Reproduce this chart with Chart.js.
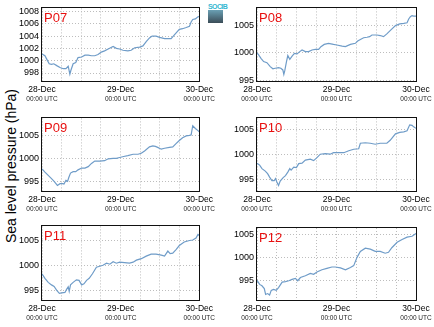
<!DOCTYPE html>
<html>
<head>
<meta charset="utf-8">
<script src="https://cdn.jsdelivr.net/npm/chart.js@4"></script>
<style>
  body { margin: 0; background: #fff; }
  #wrap { position: relative; width: 434px; height: 327px; font-family: 'Liberation Sans', Arial, sans-serif; }
  #wrap canvas { position: absolute; }
  #ylabel { position: absolute; left: 11px; top: 166px; transform: translate(-50%, -50%) rotate(-90deg); white-space: nowrap; font-size: 14px; color: #000; }
  #logo { position: absolute; left: 208px; top: 3px; width: 15px; text-align: center; }
  #logo span { display: block; font-size: 7px; font-weight: bold; line-height: 7px; color: #35b8d2; letter-spacing: -0.6px; }
  #logo div { width: 15px; height: 13px; background: linear-gradient(#6aa0b4, #3b4c57); }
</style>
</head>
<body>
<div id="wrap">
  <div id="ylabel">Sea level pressure (hPa)</div>
  <div id="logo"><span>SOCIB</span><div></div></div>
</div>
<script>
// ticks along the time axis (hours since 28-Dec 00:00 UTC)
const dateLabels = ['28-Dec', '29-Dec', '30-Dec']
const timeLabel = '00:00 UTC'

// P07
const p07Hours = [0, 0.9, 1.4, 2.2, 2.9, 3.6, 4.5, 5.5, 6.5, 7.3, 8.0, 8.5, 8.8, 9.5, 10.3, 11.0, 12.1, 13.1, 14.1, 15.1, 16.1, 17.1, 18.1, 19.1, 20.2, 21.7, 22.7, 23.7, 24.7, 26.2, 27.2, 28.3, 29.8, 30.8, 31.8, 32.8, 33.6, 34.8, 35.9, 37.4, 39.4, 40.4, 41.9, 42.9, 44.0, 45.0, 45.5, 46.0, 46.8, 47.5, 48]
const p07Values = [1001.1, 1000.8, 1000.3, 999.5, 999.4, 999.5, 999.2, 998.9, 998.7, 998.7, 999.1, 997.8, 998.4, 999.5, 999.7, 1000.5, 1000.6, 1000.9, 1000.9, 1000.8, 1000.8, 1001.0, 1001.4, 1001.6, 1001.9, 1002.3, 1002.0, 1001.9, 1001.7, 1001.6, 1001.7, 1002.1, 1002.2, 1002.4, 1003.1, 1003.7, 1004.0, 1004.0, 1003.8, 1003.6, 1003.6, 1004.2, 1005.1, 1005.2, 1005.4, 1005.6, 1006.3, 1006.7, 1006.8, 1007.1, 1007.2]

// P08
const p08Hours = [0, 0.5, 1.2, 2.0, 3.0, 4.0, 4.8, 5.5, 6.5, 7.2, 7.8, 8.1, 8.4, 8.9, 9.3, 9.9, 10.6, 11.3, 12.1, 12.9, 13.6, 14.6, 15.6, 16.6, 17.6, 18.6, 19.3, 20.3, 21.6, 23.1, 24.1, 25.7, 26.7, 28.2, 29.7, 30.4, 31.2, 32.2, 33.2, 34.0, 34.7, 36.2, 37.2, 38.2, 39.2, 40.2, 41.8, 43.1, 44.3, 45.3, 45.8, 46.3, 46.8, 47.3, 48]
const p08Values = [1000.0, 999.6, 999.0, 998.4, 998.2, 997.5, 997.1, 997.2, 997.3, 997.2, 996.9, 996.1, 996.8, 998.4, 999.5, 998.8, 999.4, 999.9, 999.8, 1000.2, 1000.5, 1000.2, 1000.2, 1000.5, 1000.6, 1000.6, 1001.1, 1001.5, 1001.7, 1001.5, 1001.4, 1001.2, 1001.1, 1001.5, 1001.7, 1002.1, 1002.4, 1002.7, 1002.8, 1002.9, 1003.2, 1003.2, 1003.1, 1002.9, 1003.4, 1004.0, 1004.9, 1005.2, 1005.3, 1005.4, 1006.1, 1006.5, 1006.7, 1006.6, 1006.6]

// P09
const p09Hours = [0, 0.9, 1.9, 2.9, 3.7, 4.7, 5.5, 6.3, 6.7, 7.3, 7.8, 8.2, 8.7, 9.5, 10.3, 11.0, 12.1, 13.1, 14.1, 15.1, 16.1, 17.6, 19.1, 20.2, 21.7, 22.7, 23.7, 24.9, 26.2, 27.8, 29.3, 30.3, 31.3, 32.8, 33.8, 34.6, 35.3, 36.4, 37.4, 38.9, 39.9, 40.9, 41.9, 42.9, 44.0, 45.0, 45.5, 46.0, 46.8, 47.5, 48]
const p09Values = [997.7, 997.0, 996.3, 995.6, 995.0, 994.1, 994.5, 994.5, 994.4, 995.2, 995.0, 995.9, 996.8, 997.1, 997.1, 997.5, 997.9, 997.9, 998.2, 998.9, 999.4, 999.4, 999.5, 999.9, 1000.0, 1000.0, 1000.2, 1000.4, 1000.6, 1000.9, 1000.9, 1001.1, 1001.6, 1002.5, 1002.7, 1002.6, 1002.4, 1002.0, 1002.2, 1002.4, 1002.5, 1003.2, 1003.9, 1004.5, 1004.9, 1005.0, 1005.1, 1007.1, 1006.5, 1006.1, 1005.8]

// P10
const p10Hours = [0, 0.8, 1.5, 2.5, 3.2, 3.8, 4.5, 5.2, 5.6, 6.0, 6.5, 7.0, 7.9, 8.6, 9.3, 9.9, 10.3, 11.1, 11.9, 12.6, 13.6, 14.6, 16.1, 17.1, 18.1, 19.1, 20.6, 22.1, 23.1, 24.7, 26.2, 27.7, 29.2, 30.7, 31.2, 32.7, 34.2, 35.7, 37.2, 39.2, 40.2, 41.8, 43.1, 44.3, 45.3, 46.1, 46.8, 47.3, 48]
const p10Values = [998.2, 997.8, 997.1, 996.6, 996.1, 995.4, 994.7, 994.7, 995.1, 994.4, 993.7, 994.6, 995.3, 995.7, 996.4, 997.1, 996.8, 997.4, 997.3, 998.1, 998.2, 998.8, 999.0, 998.7, 999.3, 1000.0, 1000.1, 1000.0, 1000.3, 1000.3, 1000.3, 1000.7, 1001.0, 1001.1, 1002.2, 1002.3, 1002.2, 1002.0, 1002.2, 1002.2, 1002.8, 1004.1, 1004.4, 1004.5, 1004.7, 1005.9, 1005.8, 1005.5, 1005.2]

// P11
const p11Hours = [0, 0.9, 1.9, 2.9, 3.7, 4.5, 5.3, 6.0, 7.0, 7.5, 8.0, 8.3, 8.7, 9.5, 10.5, 11.3, 12.1, 12.8, 13.6, 14.4, 15.4, 16.6, 17.6, 18.6, 19.7, 20.7, 21.7, 22.7, 23.7, 25.2, 26.7, 27.8, 28.8, 30.3, 31.8, 33.3, 34.8, 36.4, 37.4, 38.4, 39.1, 39.9, 40.9, 41.9, 43.4, 45.0, 46.0, 47.0, 47.6, 48]
const p11Values = [998.4, 997.5, 996.7, 996.2, 995.9, 995.1, 994.5, 994.6, 994.7, 995.3, 995.8, 994.9, 996.2, 996.7, 997.2, 997.1, 996.2, 996.4, 997.1, 997.5, 998.4, 999.7, 999.9, 1000.1, 1000.5, 1000.3, 1000.8, 1000.5, 1000.7, 1000.6, 1000.5, 1000.7, 1001.1, 1001.4, 1001.9, 1002.3, 1002.3, 1002.1, 1001.9, 1002.9, 1002.4, 1002.5, 1003.2, 1004.0, 1004.7, 1005.0, 1005.1, 1005.5, 1006.2, 1006.0]

// P12
const p12Hours = [0, 0.8, 1.5, 2.2, 2.6, 3.2, 3.8, 4.3, 5.0, 5.8, 6.5, 7.6, 8.6, 9.6, 10.6, 11.6, 12.3, 13.1, 14.6, 16.1, 17.1, 18.1, 19.6, 21.1, 22.6, 23.6, 25.2, 26.7, 28.2, 29.2, 30.2, 31.2, 32.7, 34.2, 35.7, 37.2, 38.7, 39.7, 40.7, 42.3, 43.8, 45.3, 46.8, 48]
const p12Values = [995.0, 994.1, 993.8, 993.2, 991.9, 992.1, 991.8, 992.8, 993.0, 992.8, 993.4, 994.6, 994.7, 994.9, 995.2, 995.4, 994.9, 995.6, 996.0, 996.5, 996.3, 996.8, 997.3, 997.6, 997.9, 997.9, 997.7, 997.3, 997.8, 998.2, 1000.0, 1001.3, 1002.0, 1001.8, 1001.3, 1001.3, 1000.9, 1001.1, 1002.1, 1003.3, 1003.9, 1004.4, 1004.6, 1005.2]

// y axis ranges: [min, max, step]
const p07Range = [996.7, 1008.5, 2]
const p08Range = [994.9, 1008.0, 5]
const p09Range = [992.9, 1008.7, 5]
const p10Range = [992.6, 1007.2, 5]
const p11Range = [993.2, 1007.8, 5]
const p12Range = [990.7, 1006.4, 5]

// frame round the plot and the station name inside it
const framePlugin = {
  id: 'frame',
  afterDraw (chart, args, opts) {
    const { ctx, chartArea: a } = chart
    ctx.save()
    ctx.strokeStyle = '#111'
    ctx.lineWidth = 1
    ctx.strokeRect(Math.round(a.left) - 0.5, Math.round(a.top) - 0.5, Math.round(a.right - a.left) + 1, Math.round(a.bottom - a.top) + 1)
    ctx.fillStyle = '#e81010'
    ctx.font = '13px "Liberation Sans", Arial, sans-serif'
    ctx.textBaseline = 'alphabetic'
    ctx.fillText(opts.name, a.left + 2, a.top + 13.5)
    ctx.restore()
  }
}

function makePanel (name, hours, values, range, box) {
  const canvas = document.createElement('canvas')
  canvas.width = 217
  canvas.height = 108
  canvas.style.left = box.left + 'px'
  canvas.style.top = box.top + 'px'
  document.getElementById('wrap').appendChild(canvas)

  const gridColor = '#bdbdbd'
  new Chart(canvas.getContext('2d'), {
    type: 'line',
    data: {
      datasets: [{
        data: hours.map((h, i) => ({ x: h, y: values[i] })),
        borderColor: '#6f9cc8',
        borderWidth: 1.2,
        pointRadius: 0,
        tension: 0,
        fill: false
      }]
    },
    options: {
      responsive: false,
      animation: false,
      layout: {
        padding: {
          left: 0,
          top: box.plotTop - box.top,
          right: box.left + 217 - box.plotRight,
          bottom: box.top + 108 - box.plotBottom - 24
        }
      },
      plugins: {
        legend: { display: false },
        tooltip: { enabled: false },
        frame: { name }
      },
      scales: {
        x: {
          type: 'linear',
          position: 'bottom',
          weight: 0,
          min: 0,
          max: 48,
          afterFit: s => { s.height = 14 },
          border: { display: false, dash: [1, 2] },
          grid: { color: gridColor, drawTicks: false },
          ticks: {
            stepSize: 6,
            autoSkip: false,
            maxRotation: 0,
            padding: 4,
            color: '#000',
            font: { family: '"Liberation Sans", Arial, sans-serif', size: 8.5 },
            callback: v => (v % 24 === 0 ? dateLabels[v / 24] : '')
          }
        },
        x2: {
          type: 'linear',
          position: 'bottom',
          weight: 1,
          min: 0,
          max: 48,
          afterFit: s => { s.height = 10 },
          border: { display: false },
          grid: { display: false, drawTicks: false },
          ticks: {
            stepSize: 24,
            autoSkip: false,
            maxRotation: 0,
            padding: 0,
            color: '#222',
            font: { family: '"Liberation Sans", Arial, sans-serif', size: 6.5 },
            callback: () => timeLabel
          }
        },
        y: {
          min: range[0],
          max: range[1],
          afterFit: s => { s.width = box.plotLeft - box.left },
          border: { display: false, dash: [1, 2] },
          grid: { color: gridColor, drawTicks: false },
          ticks: {
            stepSize: range[2],
            includeBounds: false,
            padding: 3,
            color: '#000',
            font: { family: '"Liberation Sans", Arial, sans-serif', size: 9 },
            callback: v => String(v)
          }
        }
      }
    },
    plugins: [framePlugin]
  })
}

makePanel('P07', p07Hours, p07Values, p07Range, { left: 0, top: 0, plotLeft: 42, plotTop: 6, plotRight: 200, plotBottom: 81 })
makePanel('P08', p08Hours, p08Values, p08Range, { left: 217, top: 0, plotLeft: 257, plotTop: 7, plotRight: 416, plotBottom: 81 })
makePanel('P09', p09Hours, p09Values, p09Range, { left: 0, top: 110, plotLeft: 42, plotTop: 117, plotRight: 200, plotBottom: 191 })
makePanel('P10', p10Hours, p10Values, p10Range, { left: 217, top: 110, plotLeft: 257, plotTop: 118, plotRight: 416, plotBottom: 191 })
makePanel('P11', p11Hours, p11Values, p11Range, { left: 0, top: 218, plotLeft: 42, plotTop: 226, plotRight: 200, plotBottom: 300 })
makePanel('P12', p12Hours, p12Values, p12Range, { left: 217, top: 218, plotLeft: 257, plotTop: 228, plotRight: 416, plotBottom: 300 })
</script>
</body>
</html>
